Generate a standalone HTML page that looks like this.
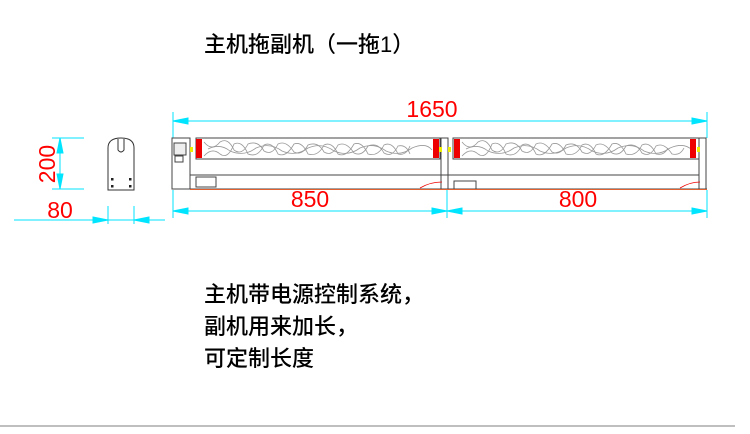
<!DOCTYPE html>
<html><head><meta charset="utf-8"><style>
html,body{margin:0;padding:0;background:#fff;}
.t{font-family:"Liberation Sans","Noto Sans CJK SC",sans-serif;font-size:22px;fill:#000;font-weight:500;}
.r{font-family:"Liberation Sans",sans-serif;fill:#f00;font-size:23px;}
</style></head><body>
<svg width="750" height="429" viewBox="0 0 750 429" xmlns="http://www.w3.org/2000/svg">
<text class="t" x="204" y="52">主机拖副机（一拖1）</text>
<text class="t" x="204" y="302">主机带电源控制系统，</text>
<text class="t" x="204" y="334">副机用来加长，</text>
<text class="t" x="204" y="366">可定制长度</text>
<line x1="0" y1="426" x2="735" y2="426" stroke="#aaa" stroke-width="1.5"/>

<g stroke="#00e5ff" stroke-width="1" fill="#00e5ff">
<line x1="173" y1="121" x2="707" y2="121"/>
<polygon points="173,121 188,118 188,124"/><polygon points="707,121 692,118 692,124"/>
<line x1="173" y1="112" x2="173" y2="138"/><line x1="707" y1="112" x2="707" y2="138"/>
<line x1="173" y1="211" x2="707" y2="211"/>
<polygon points="173,211 188,208 188,214"/><polygon points="447,211 432,208 432,214"/>
<polygon points="447,211 462,208 462,214"/><polygon points="707,211 692,208 692,214"/>
<line x1="173" y1="190" x2="173" y2="218"/><line x1="447" y1="190" x2="447" y2="218"/><line x1="707" y1="190" x2="707" y2="218"/>
<line x1="52" y1="138" x2="84" y2="138"/><line x1="52" y1="189" x2="84" y2="189"/>
<line x1="60" y1="138" x2="60" y2="189"/>
<polygon points="60,138 57,153 63,153"/><polygon points="60,189 57,174 63,174"/>
<line x1="14" y1="220" x2="165" y2="220"/>
<polygon points="108,220 93,217 93,223"/><polygon points="134,220 149,217 149,223"/>
<line x1="108" y1="206" x2="108" y2="224"/><line x1="134" y1="206" x2="134" y2="224"/>
</g>
<text class="r" x="432" y="117" text-anchor="middle">1650</text>
<text class="r" x="310" y="207" text-anchor="middle">850</text>
<text class="r" x="578" y="207" text-anchor="middle">800</text>
<text class="r" x="60" y="218" text-anchor="middle">80</text>
<text class="r" transform="translate(55,164) rotate(-90)" text-anchor="middle">200</text>

<path d="M108,190 L108,148 Q108,138 121,138 Q134,138 134,148 L134,190 Z" fill="none" stroke="#333"/>
<path d="M118,139 L118,150 Q121,154 124,150 L124,139" fill="none" stroke="#333"/>
<g fill="#222"><rect x="111" y="178" width="2.5" height="2.5"/><rect x="129" y="178" width="2.5" height="2.5"/><rect x="111" y="185" width="2.5" height="2.5"/><rect x="129" y="185" width="2.5" height="2.5"/></g>

<g fill="none" stroke="#444" stroke-width="1">
<rect x="172" y="138" width="18" height="51"/>
<rect x="174" y="143" width="12" height="12" fill="#eee"/>
<rect x="175" y="156" width="8" height="6"/>
<rect x="196" y="138" width="244" height="21"/>
<rect x="453" y="138" width="246" height="21"/>
<rect x="441" y="138" width="7" height="51"/>
<rect x="699" y="138" width="7" height="51"/>
<line x1="190" y1="175" x2="699" y2="175"/>
<line x1="190" y1="189" x2="707" y2="189"/>
<rect x="196" y="177" width="20" height="10"/>
<rect x="454" y="181" width="22" height="8"/>
</g>
<g fill="none" stroke="#999" stroke-width="0.8">
<path d="M204,142 q8,10 16,0 q8,-5 14,8 q8,6 14,-6 q10,-4 16,7 q8,5 14,-7 q8,-4 16,8 q8,4 14,-7 q10,-4 16,7 q8,5 14,-7 q8,-4 16,8 q8,4 14,-7 q10,-4 16,7 q8,5 14,-7 q8,-2 12,8"/>
<path d="M204,156 q8,-9 16,-2 q8,6 14,-10 q8,-4 14,10 q10,4 16,-9 q8,-4 14,9 q8,4 16,-10 q8,-3 14,10 q10,3 16,-9 q8,-4 14,9 q8,4 16,-10 q8,-3 14,10 q10,3 16,-9 q8,-4 14,9 q8,2 12,-8"/>
<path d="M208,149 q12,-6 22,2 q14,6 26,-3 q14,-6 26,3 q14,6 26,-3 q14,-6 26,3 q14,6 26,-3 q14,-6 26,3 q14,6 26,-3 q14,-6 20,2"/>
<path d="M462,142 q8,10 16,0 q8,-5 14,8 q8,6 14,-6 q10,-4 16,7 q8,5 14,-7 q8,-4 16,8 q8,4 14,-7 q10,-4 16,7 q8,5 14,-7 q8,-4 16,8 q8,4 14,-7 q10,-4 16,7 q8,5 14,-7 q8,-4 16,8 q8,2 12,-6"/>
<path d="M462,156 q8,-9 16,-2 q8,6 14,-10 q8,-4 14,10 q10,4 16,-9 q8,-4 14,9 q8,4 16,-10 q8,-3 14,10 q10,3 16,-9 q8,-4 14,9 q8,4 16,-10 q8,-3 14,10 q10,3 16,-9 q8,-4 14,9 q8,2 12,-6"/>
<path d="M466,149 q12,-6 22,2 q14,6 26,-3 q14,-6 26,3 q14,6 26,-3 q14,-6 26,3 q14,6 26,-3 q14,-6 26,3 q14,6 26,-3 q14,-6 22,2"/>
</g>
<g fill="#e00">
<rect x="196" y="139" width="6" height="19"/><rect x="433" y="139" width="6" height="19"/>
<rect x="454" y="139" width="6" height="19"/><rect x="690" y="139" width="6" height="19"/>
</g>
<g fill="#ee0"><rect x="439" y="147" width="3" height="5"/><rect x="448" y="147" width="3" height="5"/><rect x="697" y="147" width="3" height="5"/><rect x="190" y="147" width="3" height="5"/></g>
<line x1="190" y1="189.5" x2="707" y2="189.5" stroke="#e06030" stroke-width="1"/>
<path d="M420,188 q10,-6 22,-6 M680,188 q10,-6 20,-6" stroke="#e00" fill="none" stroke-width="0.8"/>
</svg>
</body></html>
